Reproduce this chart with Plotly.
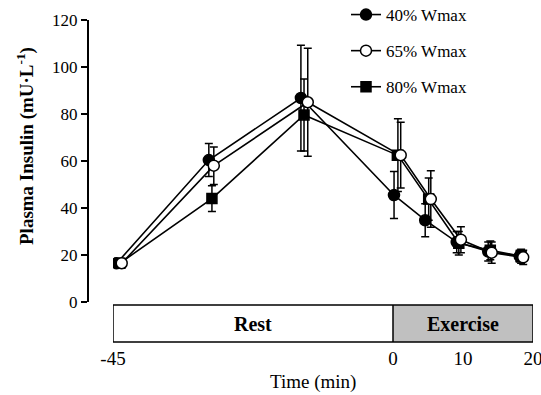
import plotly.graph_objects as go

FONT = "Liberation Serif, Times New Roman, serif"

series_names = ["40% Wmax", "65% Wmax", "80% Wmax"]

# Rest phase (min, per series)
rest_t_40 = [-44.4, -29.6, -14.8, 0.15]
rest_t_65 = [-43.6, -28.8, -13.7, 1.1]
rest_t_80 = [-43.9, -29.1, -14.3, 0.7]
# Exercise phase
ex_t_40 = [0.15, 4.6, 9.1, 13.6, 18.1]
ex_t_65 = [1.1, 5.4, 9.7, 14.1, 18.6]
ex_t_80 = [0.7, 5.1, 9.4, 13.9, 18.3]

# Plasma insulin (mU/L), rest then exercise (shared 0 min point)
ins_40 = [16.5, 60.4, 86.8, 45.5, 34.8, 25.5, 21.5, 19.5]
ins_65 = [16.5, 58.0, 85.0, 62.5, 43.8, 26.5, 21.0, 19.0]
ins_80 = [16.5, 44.0, 79.6, 62.5, 43.8, 25.0, 22.0, 19.5]
se_40 = [1.5, 7.0, 22.5, 10.0, 7.0, 4.5, 4.0, 2.5]
se_65 = [1.5, 8.0, 23.0, 14.0, 12.0, 5.5, 4.5, 3.0]
se_80 = [1.5, 5.5, 15.3, 15.5, 9.0, 5.0, 4.0, 3.0]

y_ticks = [0, 20, 40, 60, 80, 100, 120]
rest_ticks = [-45]
rest_tick_text = ["-45"]
ex_ticks = [0, 10, 20]
ex_tick_text = ["0", "10", "20"]

styles = [
    dict(symbol="circle", color="black", line=dict(color="black", width=1.5), size=11),
    dict(symbol="circle", color="white", line=dict(color="black", width=1.5), size=11),
    dict(symbol="square", color="black", line=dict(color="black", width=1.5), size=10),
]

rest_t = [rest_t_40, rest_t_65, rest_t_80]
ex_t = [ex_t_40, ex_t_65, ex_t_80]
ins = [ins_40, ins_65, ins_80]
se = [se_40, se_65, se_80]

fig = go.Figure()
order = [0, 2, 1]
for i in order:
    eb = dict(type="data", symmetric=True, color="black", thickness=1.5, width=4)
    fig.add_trace(go.Scatter(
        x=rest_t[i], y=ins[i][:4], mode="lines+markers",
        error_y=dict(eb, array=se[i][:4]),
        line=dict(color="black", width=1.6), marker=styles[i],
        name=series_names[i], legendgroup=str(i), showlegend=False,
        xaxis="x", yaxis="y"))
    fig.add_trace(go.Scatter(
        x=ex_t[i], y=ins[i][3:], mode="lines+markers",
        error_y=dict(eb, array=se[i][3:]),
        line=dict(color="black", width=1.6), marker=styles[i],
        name=series_names[i], legendgroup=str(i), showlegend=False,
        xaxis="x2", yaxis="y"))

# legend entries in original order
for i in range(3):
    fig.add_trace(go.Scatter(
        x=[None], y=[None], mode="lines+markers",
        line=dict(color="black", width=1.6), marker=styles[i],
        name=series_names[i], legendgroup="L" + str(i), showlegend=True,
        xaxis="x2", yaxis="y"))

L, R, T, B = 88, 8, 20, 50
W, H = 541, 395
pw = W - L - R
ph = H - T - B
x_rest0 = (113 - L) / pw
x_split = (393 - L) / pw
y_dom0 = (H - B - 302) / ph


def py(px):
    return (H - B - px) / ph


fig.update_layout(
    width=W, height=H,
    margin=dict(l=L, r=R, t=T, b=B, autoexpand=False),
    paper_bgcolor="white", plot_bgcolor="white",
    font=dict(family=FONT, size=16, color="black"),
    showlegend=True,
    legend=dict(x=(346 - L) / pw, y=py(-3), xanchor="left", yanchor="top",
                bgcolor="rgba(0,0,0,0)", tracegroupgap=11,
                font=dict(family=FONT, size=17)),
    xaxis=dict(domain=[x_rest0, x_split], range=[-45, 0], anchor="free", position=0,
               showgrid=False, zeroline=False, showline=False, ticks="",
               tickvals=rest_ticks, ticktext=rest_tick_text, tickfont=dict(size=19),
               ticklabeloverflow="allow", automargin=False),
    xaxis2=dict(domain=[x_split, 1.0], range=[0, 20], anchor="free", position=0,
                showgrid=False, zeroline=False, showline=False, ticks="",
                tickvals=ex_ticks, ticktext=ex_tick_text, tickfont=dict(size=19),
                ticklabeloverflow="allow", automargin=False),
    yaxis=dict(domain=[y_dom0, 1.0], range=[0, 120], anchor="free", position=0,
               tickvals=y_ticks, showgrid=False, zeroline=False,
               showline=True, linecolor="black", linewidth=2,
               ticks="outside", ticklen=6, tickwidth=1.5, tickcolor="black",
               tickfont=dict(size=17), automargin=False),
)

bar_y0, bar_y1 = py(342), py(305)
fig.add_shape(type="rect", xref="x", yref="paper", x0=-45, x1=0, y0=bar_y0, y1=bar_y1,
              fillcolor="white", line=dict(color="black", width=1.5), layer="below")
fig.add_shape(type="rect", xref="x2", yref="paper", x0=0, x1=20, y0=bar_y0, y1=bar_y1,
              fillcolor="#c0c0c0", line=dict(color="black", width=1.5), layer="below")
fig.add_annotation(text="<b>Rest</b>", xref="x", yref="paper", x=-22.5, y=(bar_y0 + bar_y1) / 2,
                   xanchor="center", yanchor="middle", showarrow=False, font=dict(size=20))
fig.add_annotation(text="<b>Exercise</b>", xref="x2", yref="paper", x=10, y=(bar_y0 + bar_y1) / 2,
                   xanchor="center", yanchor="middle", showarrow=False, font=dict(size=20))
fig.add_annotation(text="Time (min)", xref="paper", yref="paper", x=(313 - L) / pw, y=py(382),
                   xanchor="center", yanchor="middle",
                   showarrow=False, font=dict(size=19))
fig.add_annotation(text="<b>Plasma Insulin (mU·L<sup>-1</sup>)</b>", xref="paper", yref="paper",
                   x=(25 - L) / pw, y=py(146), xanchor="center", yanchor="middle",
                   textangle=-90, showarrow=False, font=dict(size=19))

fig.write_html("out.html")
